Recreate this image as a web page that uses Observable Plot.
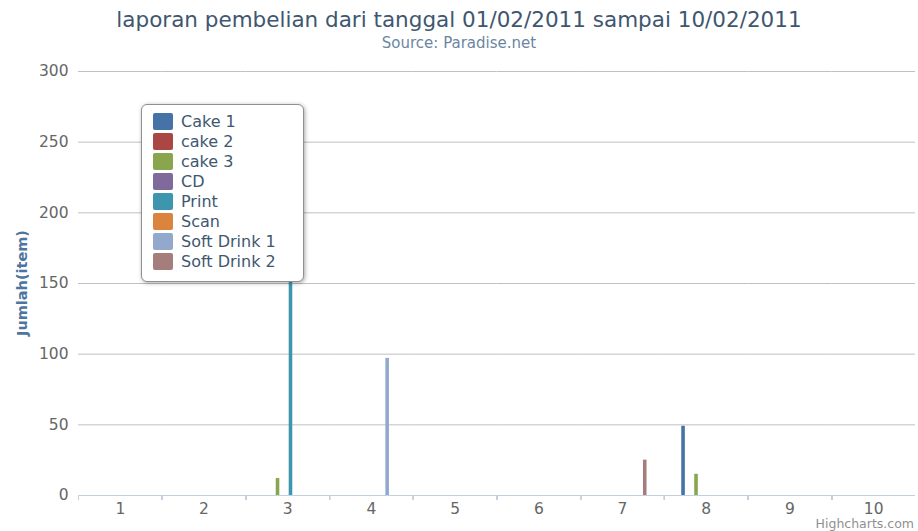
<!DOCTYPE html>
<html>
<head>
<meta charset="utf-8">
<script src="https://cdn.jsdelivr.net/npm/d3@7"></script>
<script src="https://cdn.jsdelivr.net/npm/@observablehq/plot@0.6"></script>
<style>
  html, body { margin: 0; padding: 0; background: #fff; }
  #wrap { position: relative; width: 918px; height: 531px; overflow: hidden; font-family: "DejaVu Sans", sans-serif; }
  #title { position: absolute; left: 0; width: 918px; top: 5px; text-align: center; font-size: 21.5px; line-height: 30px; color: #3E576F; }
  #subtitle { position: absolute; left: 0; width: 918px; top: 34px; text-align: center; font-size: 15px; line-height: 18px; color: #6D869F; }
  #chart { position: absolute; left: 0; top: 55px; }
  #ylabel { position: absolute; left: 22px; top: 283px; transform: translate(-50%, -50%) rotate(-90deg); font-size: 14.5px; font-weight: bold; color: #4D759E; white-space: nowrap; }
  #legend { position: absolute; left: 141px; top: 104px; width: 161px; height: 170px; border: 1px solid #909090; border-radius: 6px; background: #fff; box-shadow: 1px 1px 4px rgba(0,0,0,0.35); padding-top: 6px; box-sizing: content-box; }
  .item { display: flex; align-items: center; height: 20.1px; padding-left: 11px; font-size: 16px; color: #3E576F; }
  .sw { width: 20px; height: 17px; border-radius: 2px; margin-right: 8px; }
  #credit { position: absolute; right: 4px; top: 517px; font-size: 12.5px; line-height: 13px; color: #909090; }
</style>
</head>
<body>
<div id="wrap">
  <div id="title"></div>
  <div id="subtitle"></div>
  <div id="chart"></div>
  <div id="ylabel"></div>
  <div id="legend"></div>
  <div id="credit"></div>
</div>
<script>
const titleText = "laporan pembelian dari tanggal 01/02/2011 sampai 10/02/2011";
const subtitleText = "Source: Paradise.net";
const yTitle = "Jumlah(item)";
const creditText = "Highcharts.com";

const categories = ["1", "2", "3", "4", "5", "6", "7", "8", "9", "10"];
const seriesNames = ["Cake 1", "cake 2", "cake 3", "CD", "Print", "Scan", "Soft Drink 1", "Soft Drink 2"];
const seriesColors = ["#4572A7", "#AA4643", "#89A54E", "#80699B", "#3D96AE", "#DB843D", "#92A8CD", "#A47D7C"];

const cake1      = [0, 0, 0,   0,  0, 0, 0,  49, 0, 0];
const cake2      = [0, 0, 0,   0,  0, 0, 0,  0,  0, 0];
const cake3      = [0, 0, 12,  0,  0, 0, 0,  15, 0, 0];
const cd         = [0, 0, 0,   0,  0, 0, 0,  0,  0, 0];
const print      = [0, 0, 200, 0,  0, 0, 0,  0,  0, 0];
const scan       = [0, 0, 0,   0,  0, 0, 0,  0,  0, 0];
const softDrink1 = [0, 0, 0,   97, 0, 0, 0,  0,  0, 0];
const softDrink2 = [0, 0, 0,   0,  0, 0, 25, 0,  0, 0];

const yTicks = [0, 50, 100, 150, 200, 250, 300];

const seriesValues = [cake1, cake2, cake3, cd, print, scan, softDrink1, softDrink2];
const data = [];
seriesNames.forEach((s, i) => {
  categories.forEach((c, j) => data.push({series: s, date: c, value: seriesValues[i][j]}));
});

document.getElementById("title").textContent = titleText;
document.getElementById("subtitle").textContent = subtitleText;
document.getElementById("ylabel").textContent = yTitle;
document.getElementById("credit").textContent = creditText;

const legend = document.getElementById("legend");
seriesNames.forEach((s, i) => {
  const row = document.createElement("div");
  row.className = "item";
  const sw = document.createElement("span");
  sw.className = "sw";
  sw.style.background = seriesColors[i];
  const t = document.createElement("span");
  t.textContent = s;
  row.appendChild(sw);
  row.appendChild(t);
  legend.appendChild(row);
});

const W = 918, mL = 78, mR = 3;
const bw = (W - mL - mR) / categories.length;
const groupInset = bw * 0.19;

const chart = Plot.plot({
  width: W,
  height: 476,
  marginTop: 16,
  marginBottom: 36,
  marginLeft: mL,
  marginRight: mR,
  style: {fontFamily: "DejaVu Sans, sans-serif", fontSize: "15.5px", color: "#666", background: "transparent", overflow: "visible"},
  fx: {domain: categories, paddingInner: 0, paddingOuter: 0, round: false, label: null, axis: null},
  x: {domain: seriesNames, paddingInner: 0.45, paddingOuter: 0.225, round: false, insetLeft: groupInset, insetRight: groupInset, axis: null},
  y: {domain: [0, 300], axis: null},
  color: {domain: seriesNames, range: seriesColors},
  marks: [
    Plot.gridY(yTicks.slice(1), {stroke: "#C0C0C0", strokeOpacity: 1}),
    Plot.axisY(yTicks, {tickSize: 0, tickPadding: 10, label: null, anchor: "left"}),
    Plot.ruleY([0], {stroke: "#C0D0E0", strokeWidth: 1}),
    Plot.barY(data, {fx: "date", x: "series", y: "value", fill: "series"}),
    Plot.axisFx({anchor: "bottom", tickSize: 0, tickPadding: 7, label: null}),
    Plot.axisFx(categories.slice(1), {anchor: "bottom", dx: -bw / 2, tickSize: 5, text: null, stroke: "#C0D0E0", label: null})
  ]
});
document.getElementById("chart").appendChild(chart);
</script>
</body>
</html>
